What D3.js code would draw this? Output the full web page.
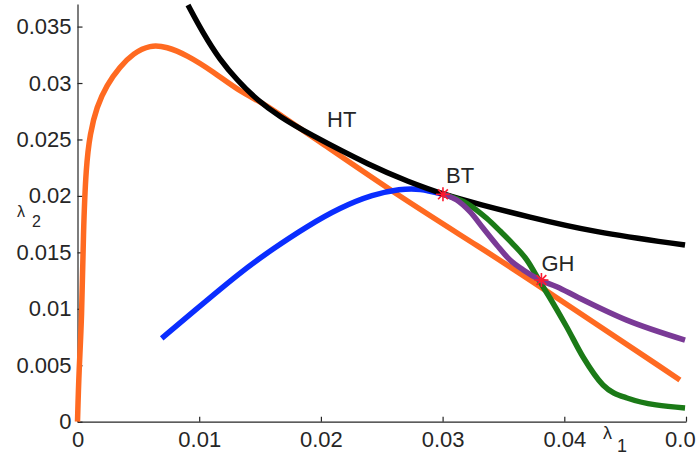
<!DOCTYPE html>
<meta charset="utf-8">
<head>
    <script type="text/javascript" src="https://d3js.org/d3.v7.min.js"></script>
    <style>
        body { margin: 0; background: #fff; }
        text { font-family: "Liberation Sans", Arial, Helvetica, sans-serif; fill: #262626; }
    </style>
    <title></title>
</head>
<body>
<script>

    // curve data: [lambda1, lambda2]
    var htCurve = [[0.00908, 0.03691], [0.01031, 0.03443], [0.01171, 0.03204], [0.01311, 0.03027],
        [0.01475, 0.02849], [0.01664, 0.027], [0.01886, 0.02558], [0.02428, 0.02256],
        [0.02716, 0.02128], [0.03003, 0.02014], [0.03307, 0.01924], [0.03693, 0.01818],
        [0.04236, 0.0168], [0.04992, 0.01565]];
    var orangeCurve = [[0.0, 0.0], [0.00012, 0.00458], [0.00035, 0.009], [0.00048, 0.01698],
        [0.0007, 0.02259], [0.00103, 0.02555], [0.00158, 0.0279], [0.0024, 0.02983],
        [0.00349, 0.03145], [0.00458, 0.03263], [0.00596, 0.03338], [0.00733, 0.03322],
        [0.00897, 0.03248], [0.01116, 0.031], [0.01335, 0.02923], [0.01524, 0.02823],
        [0.01664, 0.02717], [0.0191, 0.0254], [0.0265, 0.0199], [0.03307, 0.01546],
        [0.03824, 0.01182], [0.0495, 0.0037]];
    var blueCurve = [[0.00692, 0.00739], [0.00951, 0.00974], [0.01335, 0.01322], [0.01606, 0.01532],
        [0.01883, 0.01729], [0.02157, 0.01897], [0.02428, 0.02014], [0.0265, 0.02062],
        [0.02814, 0.02067], [0.03003, 0.02014]];
    var purpleCurve = [[0.03003, 0.02014], [0.03116, 0.01964], [0.03225, 0.0186], [0.03334, 0.01713],
        [0.03445, 0.01565], [0.03554, 0.01432], [0.03663, 0.01344], [0.03801, 0.01255],
        [0.03938, 0.01196], [0.04102, 0.01107], [0.04513, 0.009], [0.04992, 0.00723]];
    var greenCurve = [[0.03003, 0.02014], [0.03198, 0.01935], [0.03362, 0.01802], [0.03472, 0.01689],
        [0.03578, 0.01574], [0.03693, 0.01432], [0.03801, 0.01238], [0.03882, 0.01096],
        [0.0402, 0.00839], [0.04154, 0.00573], [0.04318, 0.00325], [0.04515, 0.0021],
        [0.04992, 0.00121]];

    var points = [
        {name: "HT", x: 0.01886, y: 0.02558, mark: false, dx: 20, dy: -6},
        {name: "BT", x: 0.03003, y: 0.02014, mark: true, dx: 3, dy: -11},
        {name: "GH", x: 0.03812, y: 0.01255, mark: true, dx: 0, dy: -9}
    ];

    var xTicks = [0, 0.01, 0.02, 0.03, 0.04, 0.05];
    var yTicks = [0, 0.005, 0.01, 0.015, 0.02, 0.025, 0.03, 0.035];

    var width = 696, height = 460;
    var margin = {top: 4, right: 10, bottom: 38.3, left: 77.5};

    var svg = d3.select("body").append("svg")
        .attr("width", width)
        .attr("height", height);

    var x = d3.scaleLinear().domain([0, 0.05]).range([margin.left, width - margin.right]);
    var y = d3.scaleLinear().domain([0, 0.037]).range([height - margin.bottom, margin.top]);

    var fmt = function (d) { return String(+d.toFixed(4)); };

    // axes, ticks point inward like matlab
    var gx = svg.append("g")
        .attr("transform", "translate(0," + y(0) + ")")
        .call(d3.axisBottom(x).tickValues(xTicks).tickFormat(fmt).tickSize(-5).tickSizeOuter(0).tickPadding(10));
    var gy = svg.append("g")
        .attr("transform", "translate(" + x(0) + ",0)")
        .call(d3.axisLeft(y).tickValues(yTicks).tickFormat(fmt).tickSize(-5).tickSizeOuter(0).tickPadding(6));

    [gx, gy].forEach(function (g) {
        g.selectAll("path, line").attr("stroke", "#262626").attr("stroke-width", 1.2);
        g.selectAll("text").attr("font-size", 22).attr("fill", "#262626")
            .attr("font-family", "Liberation Sans, Arial, sans-serif");
    });
    gx.selectAll("text").attr("dy", "0.71em");

    // curves: smooth ones use a b-spline, the two branches from BT keep their bends
    var smooth = d3.line()
        .x(function (d) { return x(d[0]); })
        .y(function (d) { return y(d[1]); })
        .curve(d3.curveBasis);
    var bent = d3.line()
        .x(function (d) { return x(d[0]); })
        .y(function (d) { return y(d[1]); })
        .curve(d3.curveMonotoneX);

    var curves = [
        {data: orangeCurve, color: "#ff6a21", line: smooth},
        {data: blueCurve, color: "#0a2dff", line: smooth},
        {data: htCurve, color: "#000000", line: smooth},
        {data: greenCurve, color: "#1b7a17", line: bent},
        {data: purpleCurve, color: "#7a3a96", line: bent}
    ];

    svg.append("g").selectAll("path")
        .data(curves)
        .join("path")
        .attr("d", function (d) { return d.line(d.data); })
        .attr("fill", "none")
        .attr("stroke", function (d) { return d.color; })
        .attr("stroke-width", 5.5);

    // asterisk markers
    var r = 7;
    var star = svg.append("g").selectAll("g")
        .data(points.filter(function (d) { return d.mark; }))
        .join("g")
        .attr("transform", function (d) { return "translate(" + x(d.x) + "," + y(d.y) + ")"; });
    [[-r, 0, r, 0], [0, -r, 0, r], [-r * 0.7, -r * 0.7, r * 0.7, r * 0.7], [-r * 0.7, r * 0.7, r * 0.7, -r * 0.7]]
        .forEach(function (s) {
            star.append("line")
                .attr("x1", s[0]).attr("y1", s[1]).attr("x2", s[2]).attr("y2", s[3])
                .attr("stroke", "#ff1a2e").attr("stroke-width", 1.6);
        });

    svg.append("g").selectAll("text")
        .data(points)
        .join("text")
        .attr("x", function (d) { return x(d.x) + d.dx; })
        .attr("y", function (d) { return y(d.y) + d.dy; })
        .attr("font-size", 22)
        .text(function (d) { return d.name; });

    // axis labels
    svg.append("text").attr("x", 17).attr("y", 217).attr("font-size", 16).text("λ");
    svg.append("text").attr("x", 32).attr("y", 227).attr("font-size", 16).text("2");
    svg.append("text").attr("x", 603).attr("y", 439).attr("font-size", 18).text("λ");
    svg.append("text").attr("x", 617).attr("y", 452).attr("font-size", 18).text("1");

</script>
</body>
</html>
